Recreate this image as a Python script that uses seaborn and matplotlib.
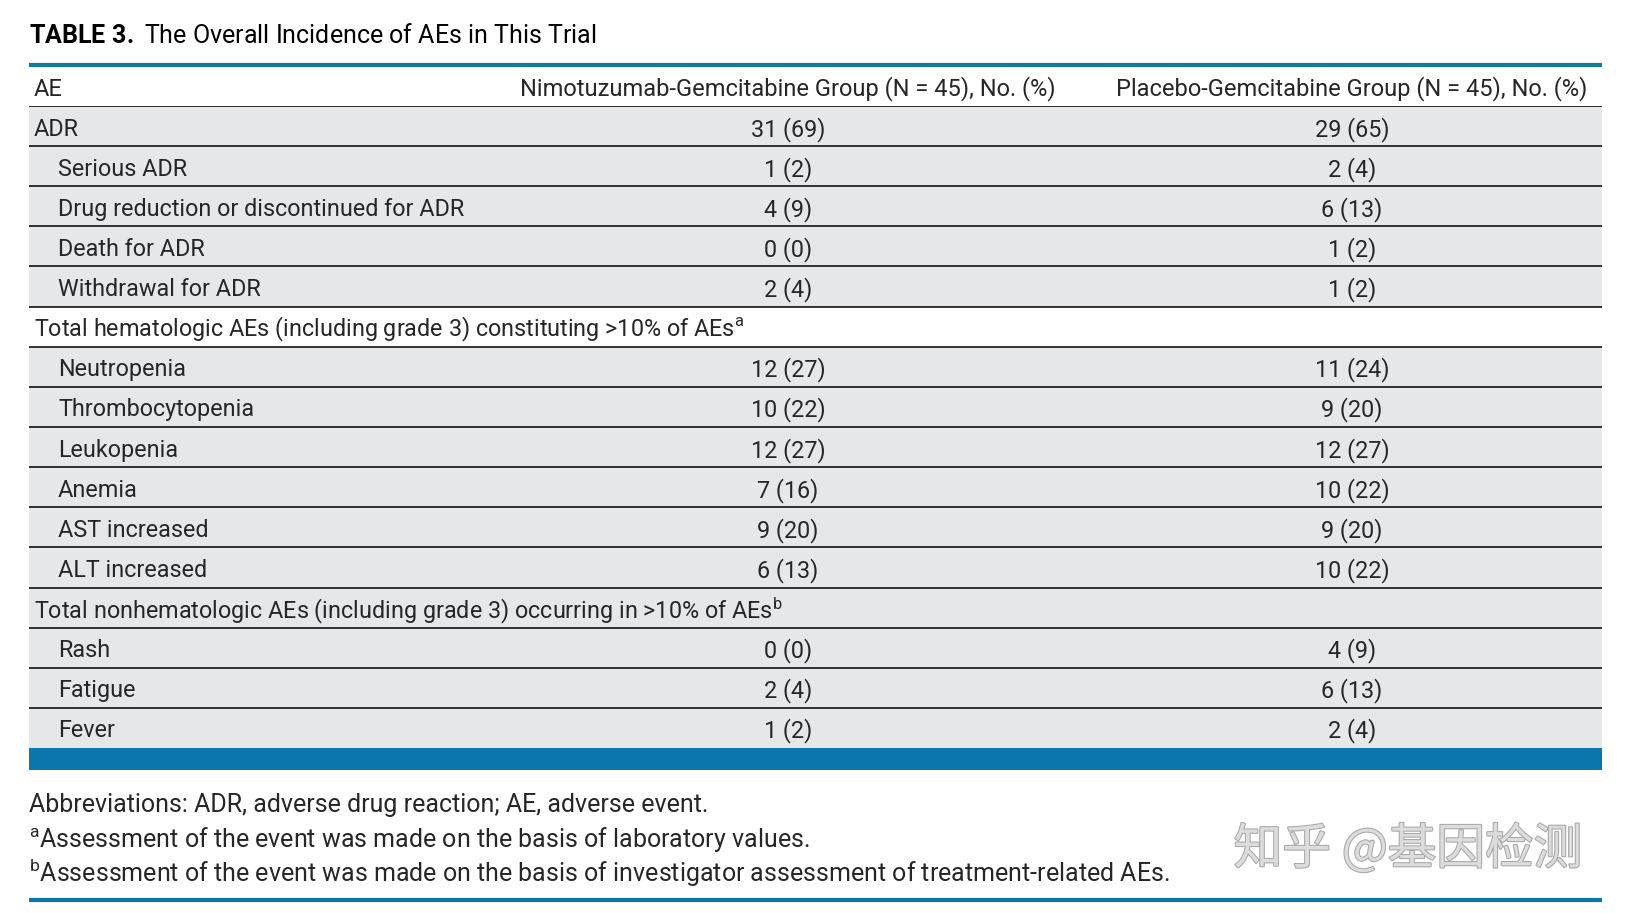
"""Table 3: overall incidence of AEs, redrawn with seaborn/matplotlib."""

import matplotlib

matplotlib.use("Agg")
import matplotlib.pyplot as plt
import matplotlib.patheffects as pe
import numpy as np
import seaborn as sns
from matplotlib.colors import ListedColormap
from matplotlib.patches import Rectangle

# ---- data ----
ae_labels = [
    "ADR",
    "Serious ADR",
    "Drug reduction or discontinued for ADR",
    "Death for ADR",
    "Withdrawal for ADR",
    "Total hematologic AEs (including grade 3) constituting >10% of AEs$^{\\mathrm{a}}$",
    "Neutropenia",
    "Thrombocytopenia",
    "Leukopenia",
    "Anemia",
    "AST increased",
    "ALT increased",
    "Total nonhematologic AEs (including grade 3) occurring in >10% of AEs$^{\\mathrm{b}}$",
    "Rash",
    "Fatigue",
    "Fever",
]
is_sub_row = [0, 1, 1, 1, 1, 0, 1, 1, 1, 1, 1, 1, 0, 1, 1, 1]
nimo_gem = ["31 (69)", "1 (2)", "4 (9)", "0 (0)", "2 (4)", "",
            "12 (27)", "10 (22)", "12 (27)", "7 (16)", "9 (20)", "6 (13)", "",
            "0 (0)", "2 (4)", "1 (2)"]
placebo_gem = ["29 (65)", "2 (4)", "6 (13)", "1 (2)", "1 (2)", "",
               "11 (24)", "9 (20)", "12 (27)", "10 (22)", "9 (20)", "10 (22)", "",
               "4 (9)", "6 (13)", "2 (4)"]
col_headers = [
    "AE",
    "Nimotuzumab-Gemcitabine Group (N = 45), No. (%)",
    "Placebo-Gemcitabine Group (N = 45), No. (%)",
]
title = "$\\mathbf{TABLE\\ 3.}$ The Overall Incidence of AEs in This Trial"
footnotes = [
    "Abbreviations: ADR, adverse drug reaction; AE, adverse event.",
    "$^{\\mathrm{a}}$Assessment of the event was made on the basis of laboratory values.",
    "$^{\\mathrm{b}}$Assessment of the event was made on the basis of investigator assessment of treatment-related AEs.",
]
watermark = "知乎 @基因检测"

# ---- style ----
sns.set_theme(style="white")
plt.rcParams["font.family"] = ["Roboto", "Noto Sans CJK SC", "DejaVu Sans"]
plt.rcParams["mathtext.fontset"] = "custom"
plt.rcParams["mathtext.rm"] = "Roboto"
plt.rcParams["mathtext.bf"] = "Roboto:bold"
plt.rcParams["mathtext.it"] = "Roboto:italic"

W, H = 1625, 913
LEFT, RIGHT = 29, 1602
TOP_BODY, BOT_BODY = 106, 748
GRAY = "#e6e7e8"
BLUE = "#0a76ae"
FS_BODY = 16.8
FS_HEAD = 17.0
FS_NOTE = 18.0
DY = 3  # text baseline nudge, px
row_shade = [1, 1, 1, 1, 1, 0, 1, 1, 1, 1, 1, 1, 1, 1, 1, 1]

fig = plt.figure(figsize=(W / 100, H / 100), dpi=100)

# row backgrounds as a one-column heatmap
ax_bg = fig.add_axes([LEFT / W, 1 - BOT_BODY / H, (RIGHT - LEFT) / W, (BOT_BODY - TOP_BODY) / H])
sns.heatmap(
    np.array(row_shade)[:, None],
    ax=ax_bg,
    cmap=ListedColormap(["white", GRAY]),
    vmin=0,
    vmax=1,
    cbar=False,
    xticklabels=False,
    yticklabels=False,
)
n_rows = len(ae_labels)
for k in range(0, n_rows):
    ax_bg.axhline(k, color="black", lw=1.1)

# overlay in pixel coordinates
ax = fig.add_axes([0, 0, 1, 1])
ax.set_xlim(0, W)
ax.set_ylim(H, 0)
ax.axis("off")
ax.patch.set_alpha(0)

ax.text(LEFT, 36, title, fontsize=18, va="center", ha="left", color="black")
ax.plot([LEFT, RIGHT], [65, 65], color="#17789f", lw=3, solid_capstyle="butt")

col_x = [34, 788, 1352]
ax.text(col_x[0], 86 + DY, col_headers[0], fontsize=FS_HEAD, va="center", ha="left")
for cx, h in zip(col_x[1:], col_headers[1:]):
    ax.text(cx, 86 + DY, h, fontsize=FS_HEAD, va="center", ha="center")

row_h = (BOT_BODY - TOP_BODY) / n_rows
for i, (lab, sub, a, b) in enumerate(zip(ae_labels, is_sub_row, nimo_gem, placebo_gem)):
    y = TOP_BODY + (i + 0.5) * row_h + DY
    ax.text(58 if sub else 34, y, lab, fontsize=FS_BODY, va="center", ha="left")
    ax.text(col_x[1], y, a, fontsize=FS_BODY, va="center", ha="center")
    ax.text(col_x[2], y, b, fontsize=FS_BODY, va="center", ha="center")

ax.add_patch(Rectangle((LEFT, BOT_BODY), RIGHT - LEFT, 22, color=BLUE, lw=0))

for y, note in zip([805, 839, 873], footnotes):
    ax.text(LEFT, y, note, fontsize=FS_NOTE, va="center", ha="left")

ax.plot([LEFT, RIGHT], [900, 900], color=BLUE, lw=3, solid_capstyle="butt")

ax.text(
    1408, 850, watermark, fontsize=35, va="center", ha="center",
    color="#dcdcdc", family=["Noto Sans CJK SC", "DejaVu Sans"],
    path_effects=[pe.withStroke(linewidth=1.5, foreground="#a8a8a8")],
)

fig.savefig("out.png", dpi=100)
